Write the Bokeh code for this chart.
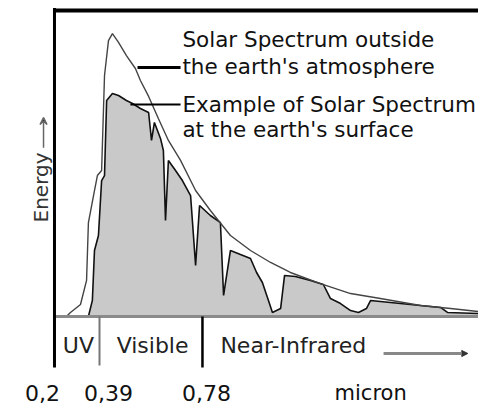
import numpy as np
from bokeh.plotting import figure
from bokeh.models import Range1d, Arrow, VeeHead, NormalHead
from bokeh.core.properties import value
from bokeh.embed import file_html
from bokeh.resources import INLINE

# Solar spectrum outside the atmosphere (wavelength in micron, relative energy)
outside_wl = [0.265, 0.280, 0.318, 0.341, 0.348, 0.371, 0.382, 0.398, 0.409, 0.424,
              0.439, 0.462, 0.492, 0.526, 0.545, 0.576, 0.613, 0.651, 0.697, 0.754,
              0.810, 0.886, 0.962, 1.038, 1.113, 1.227, 1.341, 1.454, 1.606, 1.720, 1.826]
outside_e = [0.000, 0.030, 0.089, 0.267, 0.696, 0.933, 1.044, 1.081, 1.785, 2.044,
             2.096, 2.030, 1.933, 1.837, 1.748, 1.630, 1.467, 1.304, 1.156, 0.933,
             0.785, 0.600, 0.489, 0.400, 0.326, 0.244, 0.170, 0.133, 0.081, 0.059, 0.037]

# Example of solar spectrum at the earth's surface
surface_wl = [0.348, 0.363, 0.371, 0.386, 0.398, 0.409, 0.417, 0.439, 0.462, 0.492,
              0.515, 0.545, 0.576, 0.587, 0.598, 0.621, 0.632, 0.640, 0.651, 0.678,
              0.704, 0.735, 0.754, 0.769, 0.810, 0.848, 0.860, 0.886, 0.924, 0.962,
              0.985, 1.007, 1.030, 1.045, 1.076, 1.091, 1.132, 1.189, 1.238, 1.265,
              1.303, 1.341, 1.371, 1.401, 1.417, 1.492, 1.568, 1.682, 1.708, 1.826]
surface_e = [0.000, 0.119, 0.489, 0.600, 1.007, 1.044, 1.600, 1.652, 1.637, 1.600,
             1.578, 1.541, 1.511, 1.304, 1.437, 1.319, 1.230, 0.711, 1.156, 1.081,
             1.007, 0.896, 0.378, 0.822, 0.748, 0.696, 0.156, 0.489, 0.459, 0.430,
             0.326, 0.252, 0.119, 0.030, 0.059, 0.304, 0.296, 0.267, 0.237, 0.133,
             0.096, 0.044, 0.030, 0.059, 0.119, 0.104, 0.089, 0.067, 0.030, 0.022]

tick_values = [0.2, 0.39, 0.78]
tick_labels = ["0,2", "0,39", "0,78"]
unit_label = "micron"
band_labels = ["UV", "Visible", "Near-Infrared"]
header_lines = ["Solar Spectrum outside", "the earth's atmosphere",
                "Example of Solar Spectrum", "at the earth's surface"]
y_label = "Energy"

FONT = value("DejaVu Sans")

p = figure(width=478, height=406, x_range=Range1d(0.015, 1.8256),
           y_range=Range1d(-0.6667, 2.3407), x_axis_type=None, y_axis_type=None,
           output_backend="svg", toolbar_location=None, min_border=0)
p.grid.visible = False
p.outline_line_color = None
p.background_fill_color = "white"

# surface spectrum (filled)
p.varea(x=surface_wl, y1=0, y2=surface_e, fill_color="#c9c9c9")
p.line(surface_wl, surface_e, line_color="#111111", line_width=1.6)
# outside spectrum
p.line(outside_wl, outside_e, line_color="#444444", line_width=1.4)

# baseline, frame
axis_x = 0.2195
p.segment(x0=[axis_x], y0=[0], x1=[1.9], y1=[0], line_color="#8a8a8a", line_width=3)
p.segment(x0=[axis_x], y0=[2.285], x1=[axis_x], y1=[-0.378], line_color="black", line_width=3)
p.segment(x0=[axis_x], y0=[2.267], x1=[1.9], y1=[2.267], line_color="black", line_width=4)

# band divider ticks
p.segment(x0=[tick_values[1]], y0=[0], x1=[tick_values[1]], y1=[-0.363],
          line_color="#777777", line_width=2)
p.segment(x0=[tick_values[2]], y0=[0], x1=[tick_values[2]], y1=[-0.378],
          line_color="black", line_width=2.5)

# pointer lines to the labels
p.segment(x0=[0.534], y0=[1.844], x1=[0.697], y1=[1.844], line_color="black", line_width=3)
p.segment(x0=[0.507], y0=[1.570], x1=[0.697], y1=[1.570], line_color="black", line_width=2)

# header text
p.text(x=[0.704] * 4, y=[2.052, 1.852, 1.570, 1.385], text=header_lines,
       text_font=FONT, text_font_size="21.5px", text_align="left",
       text_baseline="middle", text_color="#111111")

# band labels
p.text(x=[0.310, 0.591], y=[-0.215, -0.215], text=band_labels[:2], text_font=FONT,
       text_font_size="22px", text_align="center", text_baseline="middle",
       text_color="#222222")
p.text(x=[0.848], y=[-0.215], text=[band_labels[2]], text_font=FONT,
       text_font_size="22px", text_align="left", text_baseline="middle",
       text_color="#222222")
p.add_layout(Arrow(end=NormalHead(size=6, fill_color="#333333", line_color="#333333"),
                   x_start=1.466, y_start=-0.274, x_end=1.785, y_end=-0.274,
                   line_color="#888888", line_width=3))

# tick labels
label_x = [0.174, 0.424, 0.795]
p.text(x=label_x, y=[-0.570] * 3, text=tick_labels, text_font=FONT,
       text_font_size="22px", text_align="center", text_baseline="middle",
       text_color="#111111")
p.text(x=[1.417], y=[-0.570], text=[unit_label], text_font=FONT,
       text_font_size="21px", text_align="center", text_baseline="middle",
       text_color="#111111")

# y label with arrow
p.text(x=[0.170], y=[0.956], text=[y_label], angle=np.pi / 2, text_font=FONT,
       text_font_size="20px", text_align="center", text_baseline="middle",
       text_color="#333333")
p.add_layout(Arrow(end=VeeHead(size=7, line_color="#666666", line_width=1.5),
                   x_start=0.178, y_start=1.25, x_end=0.178, y_end=1.474,
                   line_color="#666666", line_width=1.5))

open("out.html", "w").write(file_html(p, INLINE))
